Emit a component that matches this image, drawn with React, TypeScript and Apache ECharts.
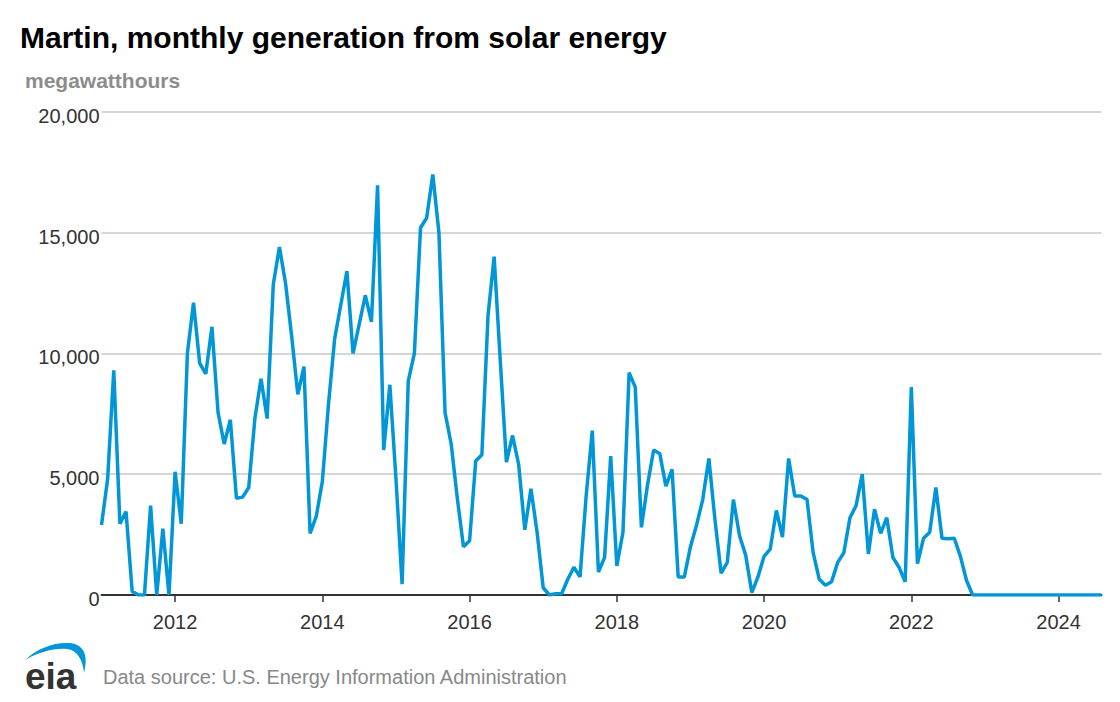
import React, { useEffect, useRef } from "react";
import * as echarts from "echarts";

const START_YEAR = 2011;
const values: number[] = [
  2900, 4800, 9300, 2950, 3450, 150, 0, 0, 3700, 0, 2750, 0,
  5100, 2950, 10000, 12100, 9600, 9150, 11100, 7550, 6250, 7250, 4000, 4050,
  4450, 7300, 8950, 7300, 12850, 14400, 12900, 10700, 8300, 9450, 2550, 3250,
  4700, 7900, 10600, 12000, 13400, 10000, 11200, 12400, 11300, 16950, 6000, 8700,
  4800, 450, 8850, 10000, 15200, 15600, 17400, 15000, 7550, 6250, 4000, 2000,
  2250, 5550, 5800, 11550, 14000, 9700, 5500, 6600, 5400, 2700, 4400, 2600,
  300, 0, 50, 50, 650, 1150, 750, 4100, 6800, 950, 1550, 5750,
  1200, 2600, 9200, 8600, 2800, 4550, 6000, 5850, 4500, 5200, 750, 750,
  2000, 2900, 3950, 5650, 3100, 900, 1350, 3950, 2450, 1650, 100, 750,
  1600, 1900, 3500, 2400, 5650, 4100, 4100, 3950, 1750, 650, 400, 550,
  1350, 1750, 3200, 3700, 5000, 1700, 3550, 2550, 3200, 1550, 1150, 550,
  8600, 1300, 2350, 2600, 4450, 2350, 2330, 2350, 1600, 600, 0, 0,
  0, 0, 0, 0, 0, 0, 0, 0, 0, 0, 0, 0,
  0, 0, 0, 0, 0, 0, 0, 0,
];
const categories: string[] = values.map((_, i) => {
  const y = START_YEAR + Math.floor(i / 12);
  const m = (i % 12) + 1;
  return `${y}-${m < 10 ? "0" + m : m}`;
});
const yTicks = [0, 5000, 10000, 15000, 20000];

const titleText = "Martin, monthly generation from solar energy";
const unitText = "megawatthours";
const sourceText = "Data source: U.S. Energy Information Administration";

const FONT = "'Liberation Sans', Arial, Helvetica, sans-serif";

export default function App() {
  const ref = useRef<HTMLDivElement>(null);
  useEffect(() => {
    if (!ref.current) return;
    echarts.graphic.registerShape(
      "eiaSwoosh",
      echarts.graphic.extendPath(
        "M0,18 C12,6 30,0 44,1 C58,2 64,12 59,31 C58,18 52,8 42,7 C28,6 12,11 0,18 Z",
        {}
      )
    );
    const chart = echarts.init(ref.current, null, { renderer: "svg" });
    const showYear = (index: number) => index % 24 === 12;
    chart.setOption({
      animation: false,
      backgroundColor: "#ffffff",
      grid: { left: 93.5, right: 10.5, top: 103.7, bottom: 99, containLabel: false },
      xAxis: {
        type: "category",
        data: categories,
        boundaryGap: false,
        axisLine: { show: true, lineStyle: { color: "#333333", width: 2 } },
        axisTick: { show: true, interval: showYear, length: 7, lineStyle: { color: "#333333", width: 1.5 } },
        axisLabel: {
          interval: showYear,
          formatter: (v: string) => v.slice(0, 4),
          color: "#333333",
          fontSize: 20,
          fontFamily: FONT,
          margin: 17,
        },
        splitLine: { show: false },
      },
      yAxis: {
        type: "value",
        min: yTicks[0],
        max: yTicks[yTicks.length - 1],
        interval: 5000,
        axisLine: { show: false },
        axisTick: { show: false },
        axisLabel: {
          color: "#333333",
          fontSize: 20,
          fontFamily: FONT,
          margin: 2,
          formatter: (v: number) => `{a|${v.toLocaleString("en-US")}}`,
          rich: {
            a: {
              color: "#333333",
              fontSize: 20,
              fontFamily: FONT,
              padding: [8, 0, 0, 0],
            },
          },
        },
        splitLine: { show: true, lineStyle: { color: "#c8c8c8", width: 1.5 } },
      },
      series: [
        {
          type: "line",
          data: values,
          showSymbol: false,
          symbol: "none",
          lineStyle: { color: "#0096d7", width: 3.5 },
          itemStyle: { color: "#0096d7" },
        },
      ],
      graphic: [
        {
          type: "text",
          left: 12,
          top: 14,
          style: { text: titleText, fill: "#000000", font: `bold 30px ${FONT}` },
        },
        {
          type: "text",
          left: 17,
          top: 62,
          style: { text: unitText, fill: "#8c8c8c", font: `bold 21px ${FONT}` },
        },
        {
          type: "eiaSwoosh",
          x: 17,
          y: 634,
          style: { fill: "#0096d7" },
        },
        {
          type: "text",
          left: 17,
          top: 650,
          style: { text: "eia", fill: "#333333", font: `bold 37px ${FONT}` },
        },
        {
          type: "text",
          left: 95,
          top: 659,
          style: { text: sourceText, fill: "#888888", font: `20px ${FONT}` },
        },
      ],
    });
    return () => chart.dispose();
  }, []);
  return <div ref={ref} style={{ width: 1104, height: 686 }} />;
}
